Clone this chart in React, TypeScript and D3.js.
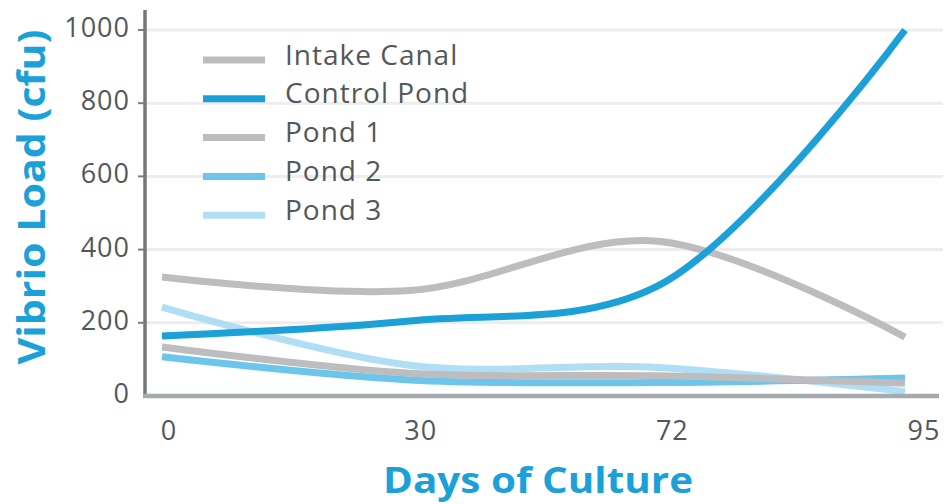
import React from 'react';
import * as d3 from 'd3';

const width = 952;
const height = 504;
const margin = {top: 30, right: 47, bottom: 108, left: 162};
const axisX = 145;
const gridRight = 943;

const blue = '#1ba1d8';
const grey = '#bdbdbf';
const textGrey = '#52575c';

// data
const days = ['0', '30', '72', '95'];
const yTicks = [0, 200, 400, 600, 800, 1000];
const intakeCanal = [325, 288, 423, 161];
const controlPond = [164, 205, 300, 1000];
const pond1 = [134, 62, 55, 35];
const pond2 = [107, 44, 37, 49];
const pond3 = [243, 84, 78, 12];

const seriesNames = ['Intake Canal', 'Control Pond', 'Pond 1', 'Pond 2', 'Pond 3'];
const seriesValues = [intakeCanal, controlPond, pond1, pond2, pond3];
const seriesColors = [grey, blue, grey, '#6cc5ea', '#b0def4'];
// draw order, control pond on top
const drawOrder = [4, 3, 2, 0, 1];

const xScale = d3.scalePoint<string>().domain(days).range([margin.left, width - margin.right]);
const labelScale = d3.scalePoint<string>().domain(days).range([169, 924]);
const yScale = d3.scaleLinear().domain([0, 1000]).range([396, margin.top]);

const line = d3.line<number>()
  .x((d, i) => xScale(days[i]) as number)
  .y(d => yScale(d))
  .curve(d3.curveCatmullRom.alpha(0.5));

export default function App() {
  const fontFamily = '"Open Sans", sans-serif';
  return (
    <svg width={width} height={height} style={{position: 'absolute', left: 0, top: 0}} fontFamily={fontFamily}>
      {/* grid */}
      {yTicks.filter(t => t > 0).map(t => (
        <line key={t} x1={axisX} x2={gridRight} y1={yScale(t)} y2={yScale(t)} stroke="#ededed" strokeWidth={3} />
      ))}
      {/* y ticks + labels */}
      {yTicks.map(t => (
        <g key={'t' + t}>
          {t > 0 && <line x1={axisX - 7} x2={axisX} y1={yScale(t)} y2={yScale(t)} stroke="#7a7e82" strokeWidth={2} />}
          <text x={130} y={yScale(t) + 7} textAnchor="end" fontSize={27} fill={textGrey} letterSpacing={1}>{t}</text>
        </g>
      ))}
      {/* lines */}
      {drawOrder.map(i => (
        <path key={seriesNames[i]} d={line(seriesValues[i]) || ''} fill="none" stroke={seriesColors[i]} strokeWidth={7} />
      ))}
      {/* axes */}
      <line x1={axisX} x2={axisX} y1={10} y2={398} stroke="#73787b" strokeWidth={3.5} />
      <line x1={axisX - 2} x2={939} y1={396} y2={396} stroke="#a6aaac" strokeWidth={4.5} />
      {days.map(d => (
        <text key={d} x={labelScale(d)} y={440} textAnchor="middle" fontSize={27} fill={textGrey} letterSpacing={1}>{d}</text>
      ))}
      {/* legend */}
      {seriesNames.map((name, i) => {
        const ly = 60 + i * 38.8;
        return (
          <g key={name}>
            <line x1={203} x2={265} y1={ly} y2={ly} stroke={seriesColors[i]} strokeWidth={7} />
            <text x={285} y={ly + 4.5} fontSize={28} fill={textGrey} letterSpacing={1}>{name}</text>
          </g>
        );
      })}
      {/* titles */}
      <text x={538} y={493} textAnchor="middle" fontSize={36} fontWeight="bold" fill={blue}
        textLength={310} lengthAdjust="spacingAndGlyphs">Days of Culture</text>
      <text transform="translate(45,197) rotate(-90)" textAnchor="middle" fontSize={38} fontWeight="bold" fill={blue}
        textLength={335} lengthAdjust="spacingAndGlyphs">Vibrio Load (cfu)</text>
    </svg>
  );
}
